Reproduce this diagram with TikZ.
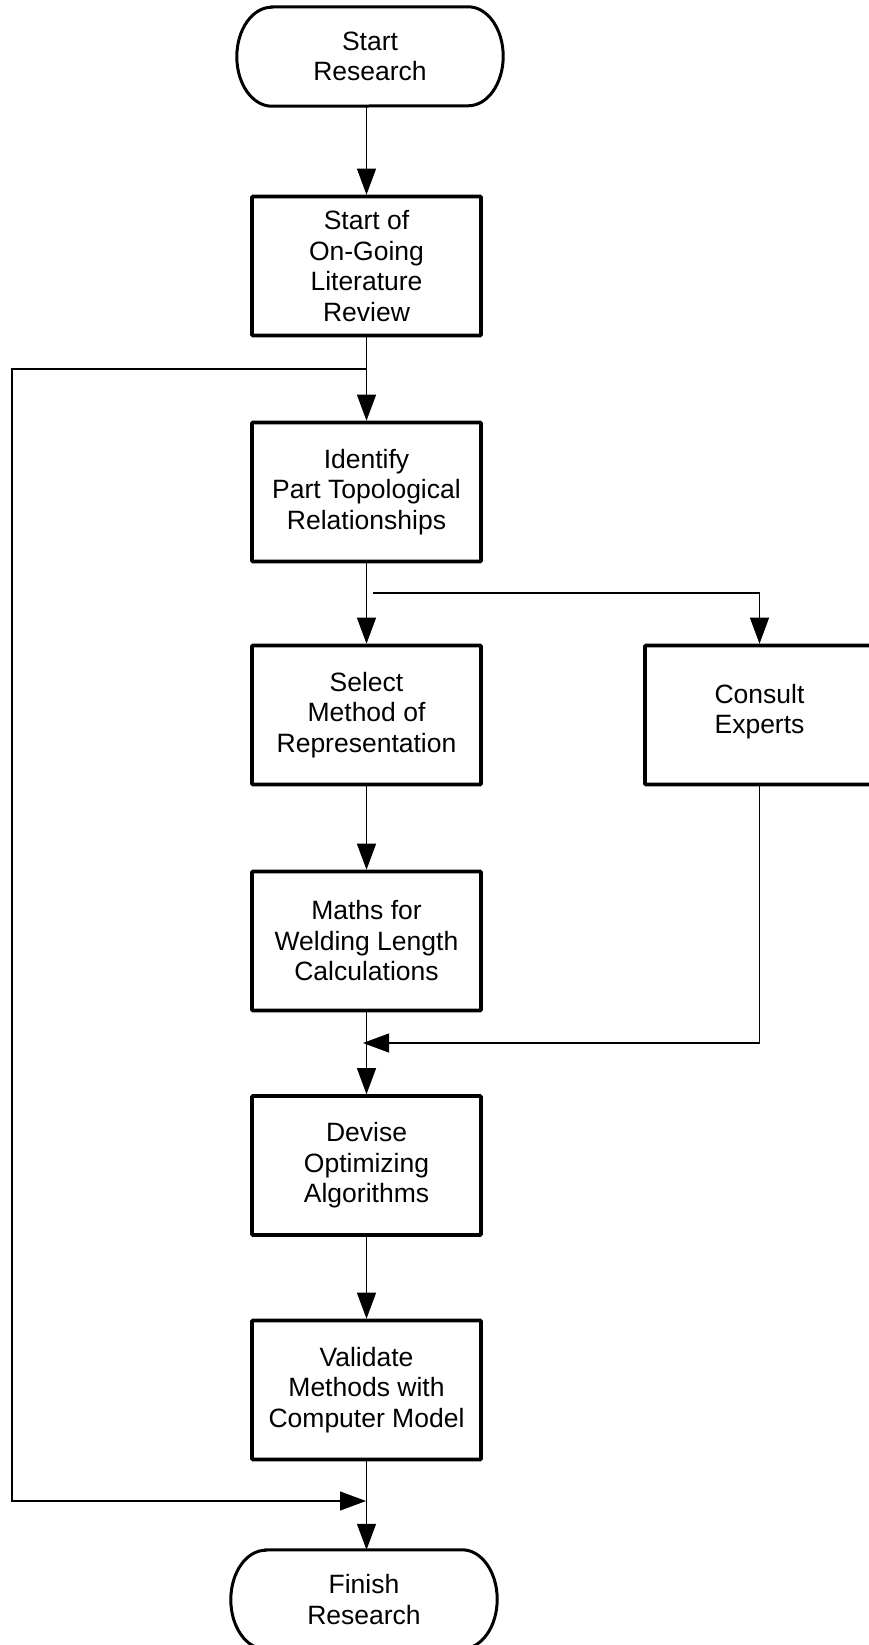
\documentclass[tikz,border=0pt]{standalone}
\usepackage{fontspec}
\setmainfont{Liberation Sans}
\usetikzlibrary{arrows.meta,calc}
\begin{document}
\begin{tikzpicture}[x=1pt,y=-1pt,
  font=\fontsize{26.5}{30.5}\selectfont,
  stepbox/.style={draw=black, line width=3.6pt, rounded corners=1pt, minimum width=229pt, minimum height=139pt, align=center, inner sep=0pt},
  termnode/.style={minimum width=266pt, minimum height=99pt, align=center, inner sep=0pt},
  termline/.style={draw=black, line width=3pt},
  conn/.style={draw=black, line width=1.1pt},
  arr/.style={conn, -{Triangle[length=26pt,width=19pt]}}
]
\useasboundingbox (0,0) rectangle (869,1645);

% terminals
\node[termnode] (start) at (370,56.5) {Start\\Research};
\node[termnode] (finish) at (364,1599.5) {Finish\\Research};
\foreach \t in {start,finish}{
  \draw[termline] ([xshift=35pt]\t.north west) -- ([xshift=-35pt]\t.north east)
    arc[start angle=90,end angle=-90,x radius=35pt,y radius=49.5pt]
    -- ([xshift=35pt]\t.south west)
    arc[start angle=270,end angle=90,x radius=35pt,y radius=49.5pt] -- cycle;
}

% boxes
\node[stepbox] (b1) at (366.5,266) {Start of\\On-Going\\Literature\\Review};
\node[stepbox] (b2) at (366.5,492) {Identify\\Part Topological\\Relationships};
\node[stepbox] (b3) at (366.5,715) {Select\\Method of\\Representation};
\node[stepbox] (ce) at (759.5,715) {Consult\\Experts\\[-18pt]};
\node[stepbox] (b4) at (366.5,941) {Maths for\\Welding Length\\Calculations};
\node[stepbox] (b5) at (366.5,1165.5) {Devise\\Optimizing\\Algorithms};
\node[stepbox] (b6) at (366.5,1390) {Validate\\Methods with\\Computer Model};

% helper coordinates
\coordinate (fbtop) at (366,369);
\coordinate (fbcorner) at (12,1501);
\coordinate (fbbot) at (366,1501);
\coordinate (br) at (373,593);
\coordinate (mg) at (363,1043);

% main flow
\draw[arr] (b1.north |- start.south) -- (b1.north);
\draw[arr] (b1.south) -- (b2.north);
\draw[arr] (b2.south) -- (b3.north);
\draw[arr] (b3.south) -- (b4.north);
\draw[arr] (b4.south) -- (b5.north);
\draw[arr] (b5.south) -- (b6.north);
\draw[arr] (b6.south) -- (b6.south |- finish.north);

% branch to experts and merge back
\draw[arr] (br) -| (ce.north);
\draw[arr] (ce.south) |- (mg);

% feedback loop
\draw[arr] (fbtop) -| (fbcorner) -- (fbbot);
\end{tikzpicture}
\end{document}
